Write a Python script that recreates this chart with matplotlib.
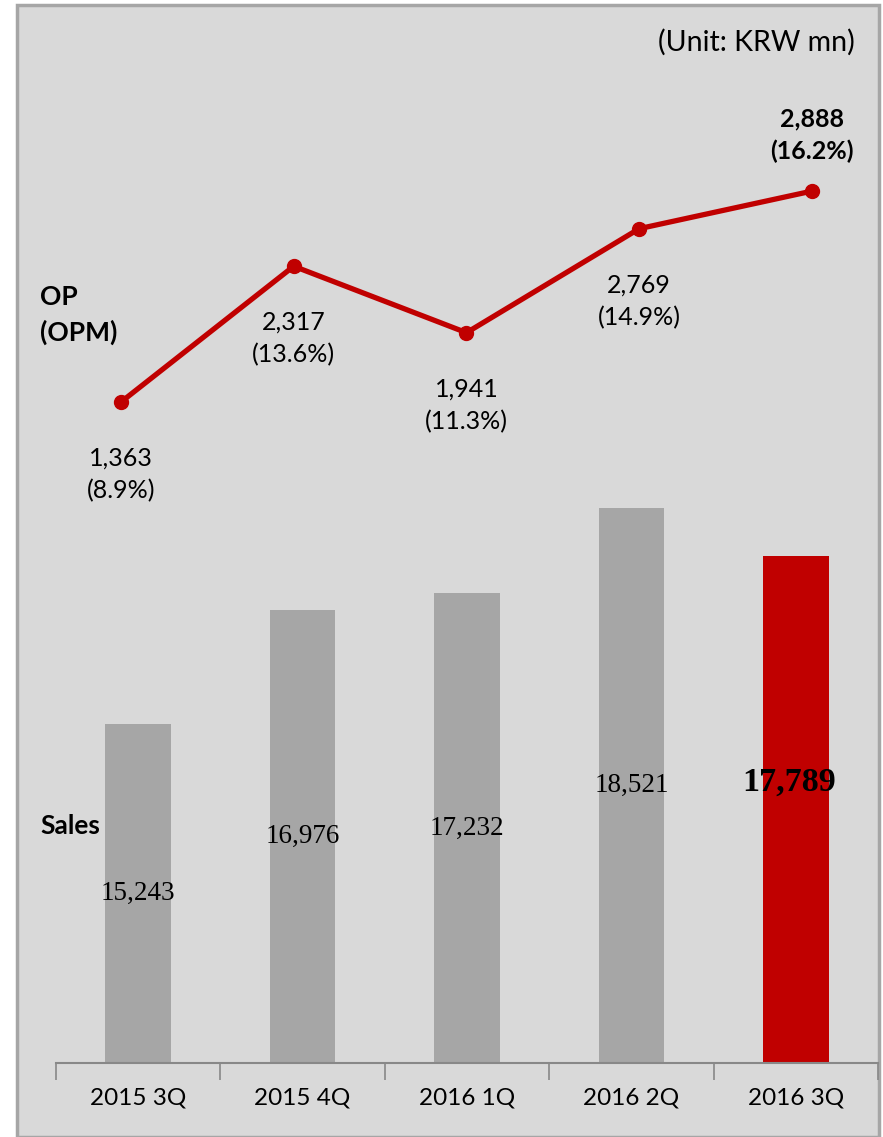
import matplotlib.pyplot as plt
from matplotlib.patches import Rectangle

quarters = ['2015 3Q', '2015 4Q', '2016 1Q', '2016 2Q', '2016 3Q']
sales = [15243, 16976, 17232, 18521, 17789]
op = [1363, 2317, 1941, 2769, 2888]
opm = [8.9, 13.6, 11.3, 14.9, 16.2]

bg = '#d9d9d9'
gray = '#a6a6a6'
red = '#c00000'
sans = ['Lato', 'DejaVu Sans']
serif = ['Liberation Serif', 'DejaVu Serif']

fig = plt.figure(figsize=(8.83, 11.37), dpi=100)
fig.patch.set_facecolor('white')
fig.patches.append(Rectangle((17 / 883, 0), 862 / 883, 1 - 5 / 1137, transform=fig.transFigure,
                             facecolor=bg, edgecolor=gray, linewidth=2.5, zorder=-5))

pos = [56 / 883, 74 / 1137, 822 / 883, 1043 / 1137]
ax = fig.add_axes(pos)
ax.set_facecolor('none')
x = list(range(len(quarters)))
colors = [gray] * 4 + [red]
ax.bar(x, sales, width=0.4, color=colors, bottom=0)
ax.set_xlim(-0.5, 4.5)
ax.set_ylim(10100, 25930)
for s in ['top', 'right', 'left']:
    ax.spines[s].set_visible(False)
ax.spines['bottom'].set_color('#888888')
ax.spines['bottom'].set_linewidth(1.5)
ax.set_yticks([])
ax.set_xticks([i - 0.5 for i in range(6)])
ax.set_xticklabels([])
ax.tick_params(axis='x', length=12, width=1.2, color='#888888', direction='out')
for i, q in enumerate(quarters):
    ax.text(i, -0.034, q, transform=ax.get_xaxis_transform(), ha='center', va='center',
            fontsize=17.5, family=sans, color='black')

base = 10100
for i, v in enumerate(sales):
    if i < 4:
        ax.text(i, (base + v) / 2, f'{v:,}', ha='center', va='center',
                fontsize=19.5, family=serif, color='black')
    else:
        ax.annotate(f'{v:,}', (i, (base + v) / 2), xytext=(-5, 20), textcoords='offset points',
                    ha='center', va='center', fontsize=24.5, fontweight='bold',
                    family=serif, color='black')

ax2 = fig.add_axes(pos, frameon=False)
ax2.plot(x, opm, color=red, linewidth=3.8, marker='o', markersize=10, zorder=3)
ax2.set_xlim(-0.376, 4.382)
ax2.set_ylim(-13.97, 22.12)
ax2.set_xticks([])
ax2.set_yticks([])

for i in range(4):
    ax2.annotate(f'{op[i]:,}\n({opm[i]}%)', (i, opm[i]), xytext=(0, -32), textcoords='offset points',
                 ha='center', va='top', fontsize=18, family=sans, linespacing=1.5)
ax2.annotate(f'{op[4]:,}\n({opm[4]}%)', (4, opm[4]), xytext=(0, 20), textcoords='offset points',
             ha='center', va='bottom', fontsize=18, family=sans, fontweight='bold', linespacing=1.5)

fig.text(40 / 883, 1 - 315 / 1137, 'OP\n(OPM)', ha='left', va='center', fontsize=19,
         family=sans, fontweight='bold', linespacing=1.5)
fig.text(40 / 883, 1 - 826 / 1137, 'Sales', ha='left', va='center', fontsize=19,
         family=sans, fontweight='bold')
fig.text(855 / 883, 1 - 42 / 1137, '(Unit: KRW mn)', ha='right', va='center', fontsize=20.5,
         family=sans)

fig.savefig('out.png', dpi=100)
